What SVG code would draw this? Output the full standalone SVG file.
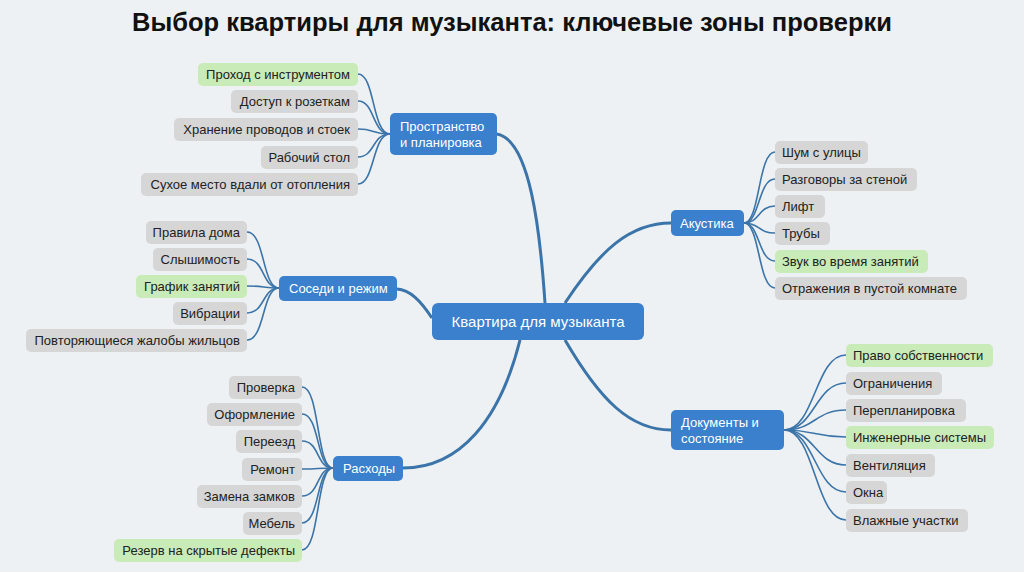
<svg xmlns="http://www.w3.org/2000/svg" width="1024" height="572" viewBox="0 0 1024 572">
<style>
.bg{fill:#eef1f3}
.leaf rect{fill:#d6d6d6}
.leaf.g rect{fill:#c8ebb8}
.leaf text{font-family:"Liberation Sans",Arial,sans-serif;font-size:13px;fill:#222;dominant-baseline:central}
.br rect,.ctr rect{fill:#3a80cc}
.br text,.ctr text{font-family:"Liberation Sans",Arial,sans-serif;fill:#fff;dominant-baseline:central}
.br text{font-size:13px}
.ctr text{font-size:15px}
.c path{fill:none;stroke:#3b74a8;stroke-width:1.6}
.c path.m{stroke-width:3}
.title{font-family:"Liberation Sans",Arial,sans-serif;font-weight:bold;font-size:25.5px;fill:#111}
</style>
<rect class="bg" width="1024" height="572"/>
<text class="title" x="512" y="31" text-anchor="middle">Выбор квартиры для музыканта: ключевые зоны проверки</text>
<g class="c">
<path class="m" d="M545 303 C540 230 530 140 497 134"/>
<path class="m" d="M432 318 C420 300 410 290 397 289"/>
<path class="m" d="M520 340 C500 420 460 468 403 468"/>
<path class="m" d="M565 303 C600 250 630 223 671 223"/>
<path class="m" d="M565 340 C600 400 630 430 671 430"/>
<path d="M358 74 C375 74 372 134 390 134"/><path d="M358 101 C375 101 372 134 390 134"/><path d="M358 129 C375 129 372 134 390 134"/><path d="M358 157 C375 157 372 134 390 134"/><path d="M358 184 C375 184 372 134 390 134"/>
<path d="M247 232 C265 232 262 288 279 288"/><path d="M247 259 C265 259 262 288 279 288"/><path d="M247 286 C265 286 262 288 279 288"/><path d="M247 313 C265 313 262 288 279 288"/><path d="M247 340 C265 340 262 288 279 288"/>
<path d="M302 387 C320 387 316 468 333 468"/><path d="M302 414 C320 414 316 468 333 468"/><path d="M302 441 C320 441 316 468 333 468"/><path d="M302 469 C320 469 316 468 333 468"/><path d="M302 496 C320 496 316 468 333 468"/><path d="M302 523 C320 523 316 468 333 468"/><path d="M302 550 C320 550 316 468 333 468"/>
<path d="M744 223 C760 223 758 152 775 152"/><path d="M744 223 C760 223 758 179 775 179"/><path d="M744 223 C760 223 758 206 775 206"/><path d="M744 223 C760 223 758 233 775 233"/><path d="M744 223 C760 223 758 261 775 261"/><path d="M744 223 C760 223 758 288 775 288"/>
<path d="M784 430 C815 430 815 355 846 355"/><path d="M784 430 C815 430 815 383 846 383"/><path d="M784 430 C815 430 815 410 846 410"/><path d="M784 430 C815 430 815 437 846 437"/><path d="M784 430 C815 430 815 465 846 465"/><path d="M784 430 C815 430 815 492 846 492"/><path d="M784 430 C815 430 815 520 846 520"/>
</g>
<g id="center" class="ctr"><rect x="432" y="303" width="212" height="37" rx="6"/><text x="538" y="321.5" text-anchor="middle">Квартира для музыканта</text></g>
<g id="b1" class="br"><rect x="390" y="113" width="107" height="42" rx="5"/><text x="400" y="126">Пространство</text><text x="400" y="142">и планировка</text></g>
<g id="b2" class="br"><rect x="279" y="276" width="118" height="25" rx="5"/><text x="289" y="288.5">Соседи и режим</text></g>
<g id="b3" class="br"><rect x="333" y="456" width="70" height="25" rx="5"/><text x="343" y="468.5">Расходы</text></g>
<g id="b4" class="br"><rect x="671" y="210" width="73" height="26" rx="5"/><text x="680" y="223">Акустика</text></g>
<g id="b5" class="br"><rect x="671" y="410" width="113" height="40" rx="5"/><text x="681" y="422">Документы и</text><text x="681" y="438">состояние</text></g>
<g id="l1" class="leaf g"><rect x="198" y="63" width="160" height="23" rx="5"/><text x="350" y="74.5" text-anchor="end">Проход с инструментом</text></g>
<g id="l2" class="leaf"><rect x="231" y="90" width="127" height="23" rx="5"/><text x="350" y="101.5" text-anchor="end">Доступ к розеткам</text></g>
<g id="l3" class="leaf"><rect x="174" y="118" width="184" height="23" rx="5"/><text x="350" y="129.5" text-anchor="end">Хранение проводов и стоек</text></g>
<g id="l4" class="leaf"><rect x="261" y="146" width="97" height="23" rx="5"/><text x="350" y="157.5" text-anchor="end">Рабочий стол</text></g>
<g id="l5" class="leaf"><rect x="141" y="173" width="217" height="23" rx="5"/><text x="350" y="184.5" text-anchor="end">Сухое место вдали от отопления</text></g>
<g id="l6" class="leaf"><rect x="146" y="221" width="101" height="23" rx="5"/><text x="240" y="232.5" text-anchor="end">Правила дома</text></g>
<g id="l7" class="leaf"><rect x="153" y="248" width="94" height="23" rx="5"/><text x="240" y="259.5" text-anchor="end">Слышимость</text></g>
<g id="l8" class="leaf g"><rect x="136" y="275" width="111" height="23" rx="5"/><text x="240" y="286.5" text-anchor="end">График занятий</text></g>
<g id="l9" class="leaf"><rect x="173" y="302" width="74" height="23" rx="5"/><text x="240" y="313.5" text-anchor="end">Вибрации</text></g>
<g id="l10" class="leaf"><rect x="26" y="329" width="221" height="23" rx="5"/><text x="240" y="340.5" text-anchor="end">Повторяющиеся жалобы жильцов</text></g>
<g id="l11" class="leaf"><rect x="229" y="376" width="73" height="23" rx="5"/><text x="295" y="387.5" text-anchor="end">Проверка</text></g>
<g id="l12" class="leaf"><rect x="207" y="403" width="95" height="23" rx="5"/><text x="295" y="414.5" text-anchor="end">Оформление</text></g>
<g id="l13" class="leaf"><rect x="236" y="430" width="66" height="23" rx="5"/><text x="295" y="441.5" text-anchor="end">Переезд</text></g>
<g id="l14" class="leaf"><rect x="242" y="458" width="60" height="23" rx="5"/><text x="295" y="469.5" text-anchor="end">Ремонт</text></g>
<g id="l15" class="leaf"><rect x="197" y="485" width="105" height="23" rx="5"/><text x="295" y="496.5" text-anchor="end">Замена замков</text></g>
<g id="l16" class="leaf"><rect x="243" y="512" width="59" height="23" rx="5"/><text x="295" y="523.5" text-anchor="end">Мебель</text></g>
<g id="l17" class="leaf g"><rect x="114" y="539" width="188" height="23" rx="5"/><text x="295" y="550.5" text-anchor="end">Резерв на скрытые дефекты</text></g>
<g id="l18" class="leaf"><rect x="775" y="141" width="93" height="23" rx="5"/><text x="782" y="152.5">Шум с улицы</text></g>
<g id="l19" class="leaf"><rect x="775" y="168" width="142" height="23" rx="5"/><text x="782" y="179.5">Разговоры за стеной</text></g>
<g id="l20" class="leaf"><rect x="775" y="195" width="50" height="23" rx="5"/><text x="782" y="206.5">Лифт</text></g>
<g id="l21" class="leaf"><rect x="775" y="222" width="55" height="23" rx="5"/><text x="782" y="233.5">Трубы</text></g>
<g id="l22" class="leaf g"><rect x="775" y="250" width="153" height="23" rx="5"/><text x="782" y="261.5">Звук во время занятий</text></g>
<g id="l23" class="leaf"><rect x="775" y="277" width="192" height="23" rx="5"/><text x="782" y="288.5">Отражения в пустой комнате</text></g>
<g id="l24" class="leaf g"><rect x="846" y="344" width="147" height="23" rx="5"/><text x="853" y="355.5">Право собственности</text></g>
<g id="l25" class="leaf"><rect x="846" y="372" width="96" height="23" rx="5"/><text x="853" y="383.5">Ограничения</text></g>
<g id="l26" class="leaf"><rect x="846" y="399" width="120" height="23" rx="5"/><text x="853" y="410.5">Перепланировка</text></g>
<g id="l27" class="leaf g"><rect x="846" y="426" width="148" height="23" rx="5"/><text x="853" y="437.5">Инженерные системы</text></g>
<g id="l28" class="leaf"><rect x="846" y="454" width="89" height="23" rx="5"/><text x="853" y="465.5">Вентиляция</text></g>
<g id="l29" class="leaf"><rect x="846" y="481" width="41" height="23" rx="5"/><text x="853" y="492.5">Окна</text></g>
<g id="l30" class="leaf"><rect x="846" y="509" width="122" height="23" rx="5"/><text x="853" y="520.5">Влажные участки</text></g>
</svg>
